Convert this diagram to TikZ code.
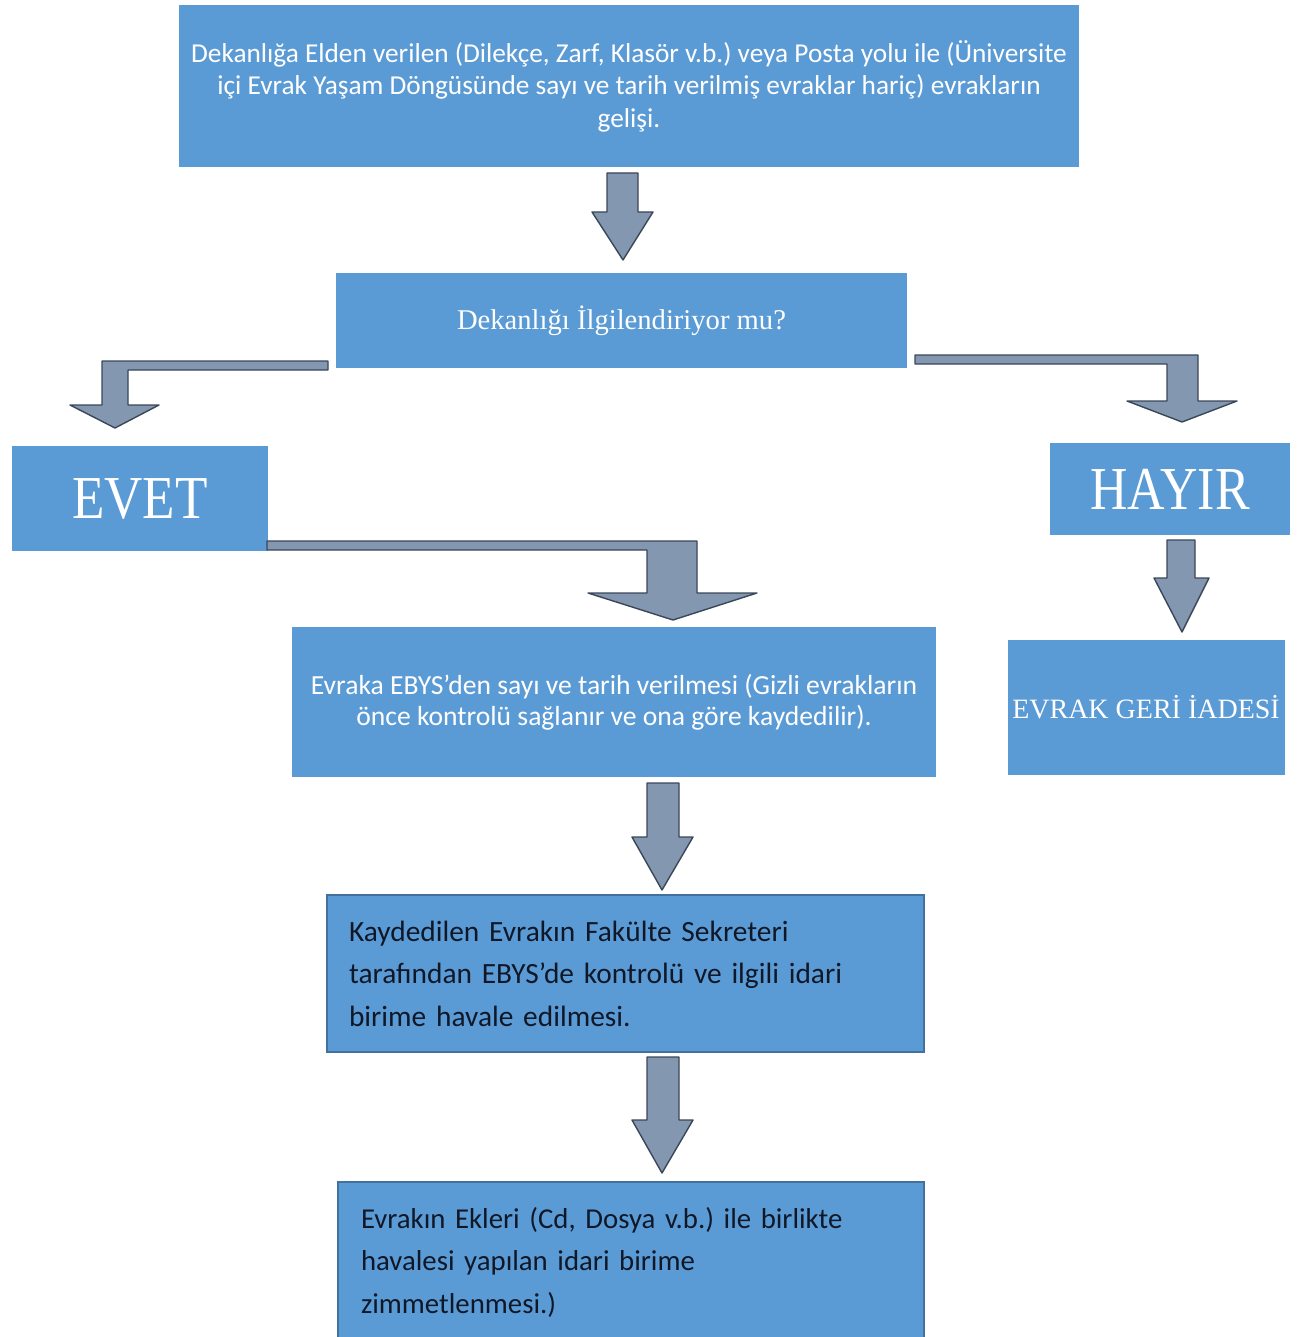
\documentclass[tikz,border=0pt]{standalone}
\usepackage{fontspec}
\setmainfont{Liberation Serif}
\newfontfamily\calfont{Carlito}
\definecolor{boxblue}{HTML}{5B9BD5}
\definecolor{boxedge}{HTML}{41719C}
\definecolor{arrfill}{HTML}{8497B0}
\definecolor{arredge}{HTML}{3A4758}
\definecolor{darktext}{HTML}{101828}
\tikzset{
  box/.style={fill=boxblue, draw=none, inner sep=0pt, text=white},
  edgebox/.style={box, draw=boxedge, line width=1.8pt, text=darktext},
  blockarrow/.style={fill=arrfill, draw=arredge, line width=1.4pt, line join=round},
}
\frenchspacing
\begin{document}
\begin{tikzpicture}[x=1pt,y=-1pt]
\useasboundingbox[fill=white] (0,0) rectangle (1297,1337);

% boxes
\node[box, minimum width=900pt, minimum height=162pt, align=center,
  font=\calfont\frenchspacing\fontsize{27.3}{32.5}\selectfont] (top) at (629,86)
  {Dekanlığa Elden verilen (Dilekçe, Zarf, Klasör v.b.) veya Posta yolu ile (Üniversite\\
   içi Evrak Yaşam Döngüsünde sayı ve tarih verilmiş evraklar hariç) evrakların\\
   gelişi.};

\node[box, minimum width=571pt, minimum height=95pt,
  font=\fontsize{28.6}{32}\selectfont] (soru) at (621.5,320.5)
  {Dekanlığı İlgilendiriyor mu?};

\node[box, minimum width=256pt, minimum height=105pt,
  font=\fontsize{61}{66}\selectfont] (evet) at (140,498.5)
  {\scalebox{0.87}[1]{EVET}};

\node[box, minimum width=240pt, minimum height=92pt,
  font=\fontsize{61}{66}\selectfont] (hayir) at (1170,489)
  {\scalebox{0.85}[1]{HAYIR}};

\node[box, minimum width=644pt, minimum height=150pt, align=center,
  font=\calfont\frenchspacing\fontsize{27.6}{31}\selectfont] (sayi) at (614,702)
  {Evraka EBYS’den sayı ve tarih verilmesi (Gizli evrakların\\
   önce kontrolü sağlanır ve ona göre kaydedilir).};

\node[box, minimum width=277pt, minimum height=135pt,
  font=\fontsize{28}{32}\selectfont] (iade) at (1146,707.5)
  {EVRAK GERİ İADESİ};

\node[edgebox, minimum width=597pt, minimum height=157pt, inner xsep=22pt,
  text width=553pt, align=left,
  font=\calfont\frenchspacing\fontsize{29.4}{42.5}\selectfont] (kayit) at (625.5,973.5)
  {Kaydedilen Evrakın Fakülte Sekreteri\\
   tarafından EBYS’de kontrolü ve ilgili idari\\
   birime havale edilmesi.};

\node[edgebox, minimum width=586pt, minimum height=160pt, inner xsep=23pt,
  text width=540pt, align=left,
  font=\calfont\frenchspacing\fontsize{28.8}{42.5}\selectfont] (zimmet) at (631,1262)
  {Evrakın Ekleri (Cd, Dosya v.b.) ile birlikte\\
   havalesi yapılan idari birime\\
   zimmetlenmesi.)};

% block arrows
\draw[blockarrow] (607,173) -- (638,173) -- (638,212) -- (653,212) -- (623,260)
  -- (592,212) -- (607,212) -- cycle;

\draw[blockarrow] (328,361) -- (102,361) -- (102,405) -- (70,405) -- (115,428)
  -- (159,405) -- (128,405) -- (128,370) -- (328,370) -- cycle;

\draw[blockarrow] (915,355) -- (1198,355) -- (1198,401) -- (1237,401) -- (1182,422)
  -- (1127,401) -- (1167,401) -- (1167,364) -- (915,364) -- cycle;

\draw[blockarrow] (267,541) -- (697,541) -- (697,593) -- (757,593) -- (673,620)
  -- (588,593) -- (647,593) -- (647,550) -- (267,550) -- cycle;

\draw[blockarrow] (1167,540) -- (1195,540) -- (1195,578) -- (1209,578) -- (1182,632)
  -- (1154,578) -- (1167,578) -- cycle;

\draw[blockarrow] (647,783) -- (679,783) -- (679,837) -- (693,837) -- (662,890)
  -- (632,837) -- (647,837) -- cycle;

\draw[blockarrow] (647,1057) -- (679,1057) -- (679,1120) -- (693,1120) -- (662,1173)
  -- (632,1120) -- (647,1120) -- cycle;
\end{tikzpicture}
\end{document}
